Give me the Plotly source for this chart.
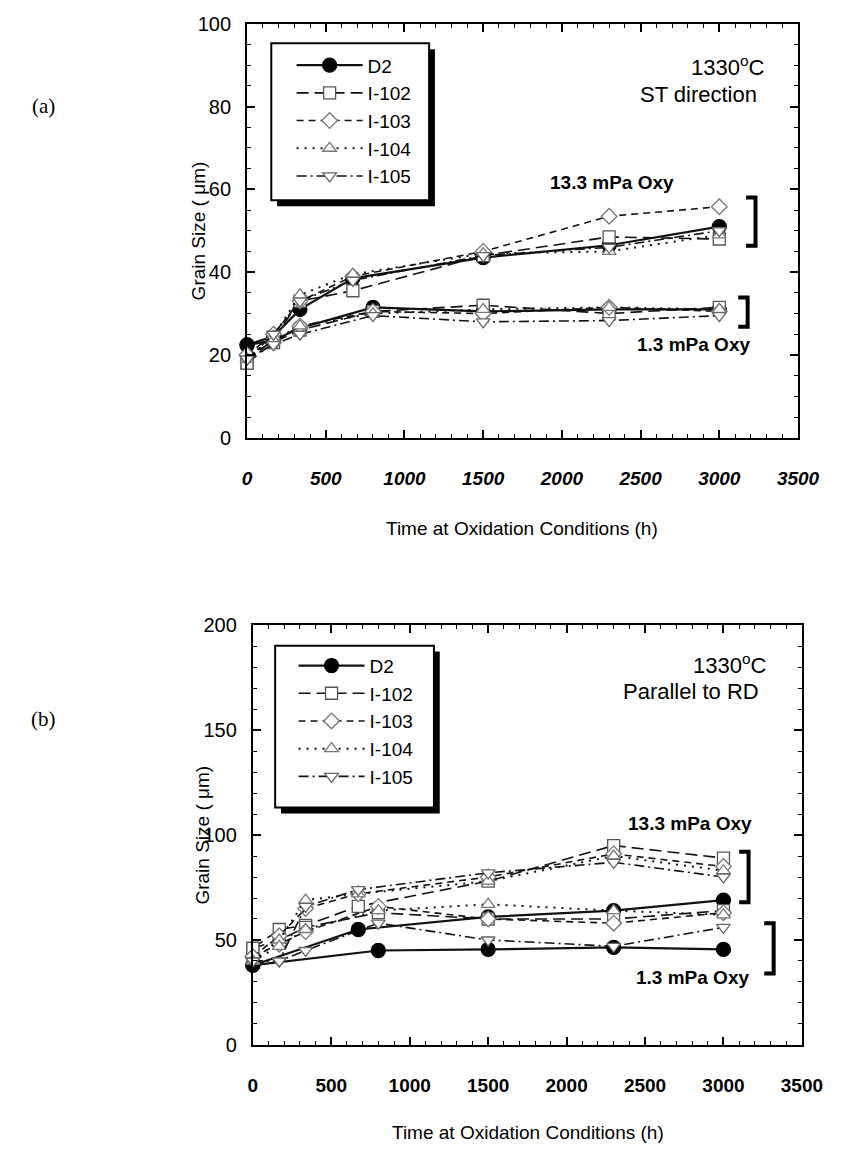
import plotly.graph_objects as go

W, H = 851, 1157
def px(x): return x / W
def py(y): return 1 - y / H

series = ["D2", "I-102", "I-103", "I-104", "I-105"]

# ---------------- Panel (a): ST direction ----------------
a_t_hi = [0, 168, 336, 672, 1500, 2300, 3000]   # 13.3 mPa oxygen
a_t_lo = [0, 168, 336, 800, 1500, 2300, 3000]   # 1.3 mPa oxygen
a_D2_hi = [22.4, 24.5, 31.0, 38.5, 43.5, 46.5, 51.0]
a_D2_lo = [22.4, 23.5, 26.5, 31.5, 30.5, 31.0, 31.0]
a_I102_hi = [18.0, 24.0, 33.0, 35.5, 44.0, 48.5, 48.0]
a_I102_lo = [18.0, 23.0, 26.0, 30.5, 32.0, 30.0, 31.5]
a_I103_hi = [20.0, 25.0, 33.0, 39.0, 45.0, 53.5, 55.8]
a_I103_lo = [20.0, 23.0, 27.0, 30.5, 30.0, 31.5, 30.5]
a_I104_hi = [19.0, 24.5, 34.5, 39.5, 44.5, 45.0, 49.0]
a_I104_lo = [19.0, 23.5, 27.0, 30.0, 31.0, 31.5, 31.0]
a_I105_hi = [19.0, 25.0, 33.0, 38.0, 44.0, 46.0, 50.0]
a_I105_lo = [19.0, 22.5, 25.0, 29.5, 28.0, 28.3, 29.5]

# ---------------- Panel (b): parallel to RD ----------------
b_t_hi = [0, 168, 336, 672, 1500, 2300, 3000]
b_t_lo = [0, 168, 336, 800, 1500, 2300, 3000]
b_D2_t_hi = [0, 672, 1500, 2300, 3000]
b_D2_t_lo = [0, 800, 1500, 2300, 3000]
b_D2_hi = [38.0, 55.0, 61.0, 64.0, 69.0]
b_D2_lo = [38.0, 45.0, 45.5, 46.5, 45.5]
b_I102_hi = [46.0, 55.0, 57.0, 66.0, 78.0, 95.0, 89.0]
b_I102_lo = [46.0, 50.0, 56.0, 63.0, 60.0, 60.0, 64.0]
b_I103_hi = [42.0, 52.0, 65.0, 72.0, 80.0, 91.0, 85.0]
b_I103_lo = [42.0, 48.0, 54.0, 66.0, 60.0, 58.0, 63.0]
b_I104_hi = [40.0, 50.0, 69.0, 72.0, 78.0, 90.0, 83.0]
b_I104_lo = [40.0, 47.0, 55.0, 64.0, 67.0, 64.0, 62.0]
b_I105_hi = [40.0, 40.0, 66.0, 74.0, 82.0, 87.0, 80.0]
b_I105_lo = [40.0, 40.0, 45.0, 58.0, 50.0, 47.0, 56.0]

x_ticks = [0, 500, 1000, 1500, 2000, 2500, 3000, 3500]

panel_a = {
    "D2": [(a_t_hi, a_D2_hi), (a_t_lo, a_D2_lo)],
    "I-102": [(a_t_hi, a_I102_hi), (a_t_lo, a_I102_lo)],
    "I-103": [(a_t_hi, a_I103_hi), (a_t_lo, a_I103_lo)],
    "I-104": [(a_t_hi, a_I104_hi), (a_t_lo, a_I104_lo)],
    "I-105": [(a_t_hi, a_I105_hi), (a_t_lo, a_I105_lo)],
}
panel_b = {
    "D2": [(b_D2_t_hi, b_D2_hi), (b_D2_t_lo, b_D2_lo)],
    "I-102": [(b_t_hi, b_I102_hi), (b_t_lo, b_I102_lo)],
    "I-103": [(b_t_hi, b_I103_hi), (b_t_lo, b_I103_lo)],
    "I-104": [(b_t_hi, b_I104_hi), (b_t_lo, b_I104_lo)],
    "I-105": [(b_t_hi, b_I105_hi), (b_t_lo, b_I105_lo)],
}

styles = {
    "D2": dict(symbol="circle", size=14, color="black", fill="black", dash="solid", lw=2.2),
    "I-102": dict(symbol="square", size=12, color="#555", fill="white", dash="12px,6px", lw=1.6),
    "I-103": dict(symbol="diamond", size=12, color="#777", fill="white", dash="7px,5px", lw=1.6),
    "I-104": dict(symbol="triangle-up", size=12, color="#777", fill="white", dash="2px,6px", lw=2.0),
    "I-105": dict(symbol="triangle-down", size=12, color="#666", fill="white", dash="10px,4px,2px,4px", lw=1.6),
}

fig = go.Figure()

def add_panel(data, xa, ya, leg):
    for name in series:
        st = styles[name]
        for i, (t, v) in enumerate(data[name]):
            fig.add_trace(go.Scatter(
                x=t, y=v, mode="lines+markers", name=name,
                legendgroup=leg + name, showlegend=(i == 0), legend=leg,
                xaxis=xa, yaxis=ya, cliponaxis=False,
                line=dict(color="#111", width=st["lw"], dash=st["dash"]),
                marker=dict(symbol=st["symbol"], size=st["size"], color=st["fill"],
                            line=dict(color=st["color"], width=1.3)),
            ))

add_panel(panel_a, "x", "y", "legend")
add_panel(panel_b, "x2", "y2", "legend2")

sans = "Liberation Sans, Arial, sans-serif"
axis_common = dict(
    showline=True, linecolor="black", linewidth=2, mirror="allticks",
    ticks="inside", ticklen=8, tickwidth=1.5, tickcolor="black",
    showgrid=False, zeroline=False,
)
xa_common = dict(axis_common, range=[0, 3500], tickvals=x_ticks,
                 minor=dict(dtick=100, ticks="inside", ticklen=4, tickcolor="black", tickwidth=1),
                 ticklabelstandoff=22)

leg_common = dict(xanchor="left", yanchor="top", bgcolor="rgba(0,0,0,0)", borderwidth=0,
                  font=dict(family=sans, size=19, color="black"), itemwidth=66, tracegroupgap=0)

fig.update_layout(
    width=W, height=H, margin=dict(l=0, r=0, t=0, b=0),
    paper_bgcolor="white", plot_bgcolor="white",
    xaxis=dict(xa_common, domain=[px(250), px(819)], anchor="y",
               tickfont=dict(family=sans, size=19, color="black", weight="bold", style="italic")),
    yaxis=dict(axis_common, domain=[py(435), py(13)], anchor="x", range=[0, 100], dtick=20,
               minor=dict(dtick=5, ticks="inside", ticklen=4, tickcolor="black", tickwidth=1),
               tickfont=dict(family=sans, size=20, color="black"), ticklabelstandoff=10),
    xaxis2=dict(xa_common, domain=[px(256), px(823)], anchor="y2",
                tickfont=dict(family=sans, size=19, color="black", weight="bold")),
    yaxis2=dict(axis_common, domain=[py(1054), py(626)], anchor="x2", range=[0, 200], dtick=50,
                minor=dict(dtick=10, ticks="inside", ticklen=4, tickcolor="black", tickwidth=1),
                tickfont=dict(family=sans, size=20, color="black"), ticklabelstandoff=10),
    legend=dict(leg_common, x=px(296), y=py(36)),
    legend2=dict(leg_common, x=px(298), y=py(648)),
)

# legend frames with drop shadow
for (x0, y0, x1, y1) in [(275, 33, 438, 193), (279, 647, 443, 812)]:
    fig.add_shape(type="rect", xref="paper", yref="paper",
                  x0=px(x0 + 6), x1=px(x1 + 6), y0=py(y1 + 6), y1=py(y0 + 6),
                  fillcolor="black", line=dict(width=0), layer="above")
    fig.add_shape(type="rect", xref="paper", yref="paper",
                  x0=px(x0), x1=px(x1), y0=py(y1), y1=py(y0),
                  fillcolor="white", line=dict(color="black", width=2), layer="above")

# brackets (data coordinates)
brackets = [("x", "y", 3230, 46.4, 58.0), ("x", "y", 3180, 26.8, 33.9),
            ("x2", "y2", 3160, 68, 92), ("x2", "y2", 3320, 34, 58)]
for xr, yr, xb, ylo, yhi in brackets:
    fig.add_shape(type="path", xref=xr, yref=yr,
                  path=f"M {xb-60},{yhi} L {xb},{yhi} L {xb},{ylo} L {xb-60},{ylo}",
                  line=dict(color="black", width=4))

ann = []
def text(x, y, s, size=20, bold=False, xanchor="center", fam=sans, angle=0, xref="paper", yref="paper"):
    ann.append(dict(x=x, y=y, xref=xref, yref=yref, text=s, showarrow=False, xanchor=xanchor,
                    yanchor="middle", textangle=angle,
                    font=dict(family=fam, size=size, color="black", weight="bold" if bold else "normal")))

# panel a texts
text(px(787), py(56), "1330<sup>o</sup>C", size=22, xanchor="right")
text(px(779), py(85), "ST direction", size=22, xanchor="right")
text(2320, 61.6, "13.3 mPa Oxy", size=19, bold=True, xref="x", yref="y")
text(2835, 22.5, "1.3 mPa Oxy", size=19, bold=True, xref="x", yref="y")
text(px(200), py(224), "Grain Size ( μm)", size=19, angle=-90)
text(px(534), py(528), "Time at Oxidation Conditions (h)", size=19)
text(px(40), py(97), "(a)", size=21, fam="Liberation Serif, Times New Roman, serif")

# panel b texts
text(px(789), py(666), "1330<sup>o</sup>C", size=22, xanchor="right")
text(px(781), py(694), "Parallel to RD", size=22, xanchor="right")
text(2784, 105.5, "13.3 mPa Oxy", size=19, bold=True, xref="x2", yref="y2")
text(2800, 32, "1.3 mPa Oxy", size=19, bold=True, xref="x2", yref="y2")
text(px(204), py(840), "Grain Size ( μm)", size=19, angle=-90)
text(px(540), py(1143), "Time at Oxidation Conditions (h)", size=19)
text(px(40), py(722), "(b)", size=21, fam="Liberation Serif, Times New Roman, serif")

fig.update_layout(annotations=ann)

fig.write_html("out.html")
